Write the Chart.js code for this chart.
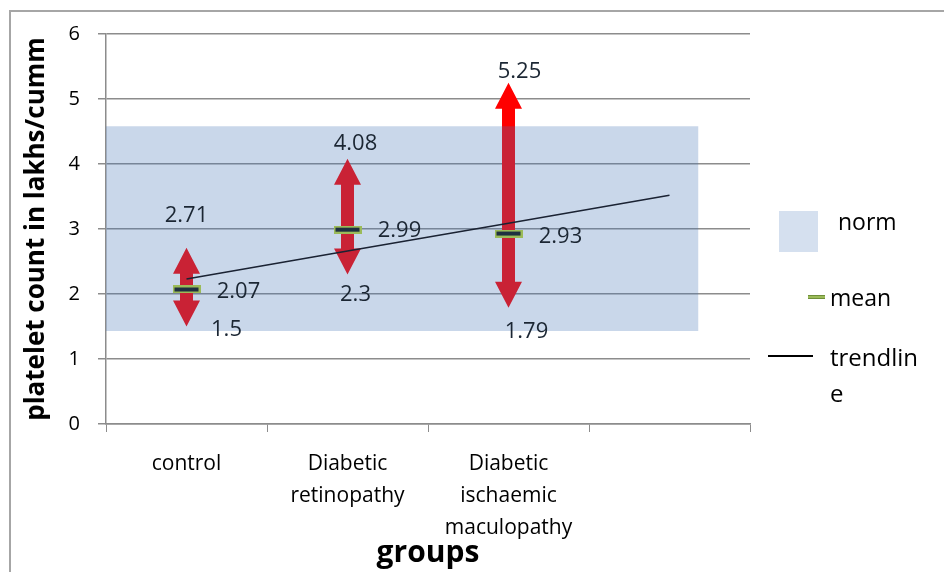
<!DOCTYPE html>
<html lang="en">
<head>
  <meta charset="UTF-8" />
  <title>platelet count by group</title>
  <script src="https://cdn.jsdelivr.net/npm/chart.js"></script>
  <style>
    body {
      margin: 0;
      font-family: "Open Sans", sans-serif;
      background: #fff;
    }
    #wrap {
      position: relative;
      width: 944px;
      height: 572px;
      overflow: hidden;
    }
    #frame {
      position: absolute;
      left: 9px;
      top: 10px;
      width: 1000px;
      height: 700px;
      border: 2px solid #a6a6a6;
    }
    canvas {
      position: absolute;
      left: 0;
      top: 0;
    }
    .leg {
      position: absolute;
      font-size: 23px;
      color: #000;
      line-height: 36px;
    }
    .sw {
      position: absolute;
    }
  </style>
</head>
<body>
<div id="wrap">
  <div id="frame"></div>
  <canvas id="plateletChart" width="944" height="572"></canvas>

  <div class="sw" style="left:779px; top:211px; width:39px; height:41px; background:#d5e0ef;"></div>
  <div class="leg" style="left:838px; top:203px;">norm</div>

  <div class="sw" style="left:808px; top:295px; width:17px; height:4px; background:#9bbb59; border-top:1px solid #6f8f3a; border-bottom:1px solid #6f8f3a; box-sizing:border-box;"></div>
  <div class="leg" style="left:830px; top:279px;">mean</div>

  <div class="sw" style="left:768px; top:355px; width:45px; height:2px; background:#000;"></div>
  <div class="leg" style="left:830px; top:339px; font-size:24px;">trendlin<br>e</div>
</div>

<script>
  // categories (4th slot is empty in the original)
  const groups = ['control', ['Diabetic', 'retinopathy'], ['Diabetic', 'ischaemic', 'maculopathy'], ''];
  const yTicks = [0, 1, 2, 3, 4, 5, 6];

  const meanVals = [2.07, 2.99, 2.93];
  const minVals = [1.5, 2.3, 1.79];
  const maxVals = [2.71, 4.08, 5.25];
  const trendVals = [2.23, 2.66, 3.09, 3.52];

  // normal range band
  const normLow = 1.43;
  const normHigh = 4.58;
  const normEnd = 3.68; // in category units along the axis

  // mean marker: dark bar with a green rim
  const meanMark = document.createElement('canvas');
  meanMark.width = 28;
  meanMark.height = 8;
  (function () {
    const c = meanMark.getContext('2d');
    c.fillStyle = '#9bbb59';
    c.fillRect(0, 0, 28, 8);
    c.fillStyle = '#1f3040';
    c.fillRect(2, 2, 24, 4);
  })();

  // label offsets (px) from the value's position
  const maxOff = [[0, -32], [8, -15], [11, -11]];
  const minOff = [[40, 3], [8, 20], [18, 24]];
  const meanOff = [[52, 2], [52, 1], [52, 3]];

  const arrowPlugin = {
    id: 'arrows',
    beforeDatasetsDraw(chart) {
      const ctx = chart.ctx;
      const xs = chart.scales.x;
      const ys = chart.scales.y;
      const headH = 26, headW = 13.5, shaftW = 6.5;
      ctx.save();
      ctx.fillStyle = '#ff0000';
      minVals.forEach((mn, i) => {
        const x = xs.getPixelForValue(i);
        const top = ys.getPixelForValue(maxVals[i]);
        const bot = ys.getPixelForValue(mn);
        ctx.beginPath();
        ctx.moveTo(x, top);
        ctx.lineTo(x + headW, top + headH);
        ctx.lineTo(x + shaftW, top + headH);
        ctx.lineTo(x + shaftW, bot - headH);
        ctx.lineTo(x + headW, bot - headH);
        ctx.lineTo(x, bot);
        ctx.lineTo(x - headW, bot - headH);
        ctx.lineTo(x - shaftW, bot - headH);
        ctx.lineTo(x - shaftW, top + headH);
        ctx.lineTo(x - headW, top + headH);
        ctx.closePath();
        ctx.fill();
      });
      ctx.restore();
    },
    afterDatasetsDraw(chart) {
      const ctx = chart.ctx;
      const xs = chart.scales.x;
      const ys = chart.scales.y;
      ctx.save();
      ctx.font = '22px "Open Sans"';
      ctx.fillStyle = '#1b2633';
      ctx.textAlign = 'center';
      ctx.textBaseline = 'middle';
      const put = (v, i, off) => {
        const x = xs.getPixelForValue(i) + off[0];
        const y = ys.getPixelForValue(v) + off[1];
        ctx.fillText(String(v), x, y);
      };
      maxVals.forEach((v, i) => put(v, i, maxOff[i]));
      minVals.forEach((v, i) => put(v, i, minOff[i]));
      meanVals.forEach((v, i) => put(v, i, meanOff[i]));
      ctx.restore();
    }
  };

  const ctx = document.getElementById('plateletChart').getContext('2d');

  new Chart(ctx, {
    type: 'line',
    data: {
      labels: groups,
      datasets: [
        {
          label: 'trendline',
          data: trendVals,
          borderColor: '#1a2233',
          borderWidth: 1.5,
          pointRadius: 0,
          fill: false,
          order: 1
        },
        {
          label: 'mean',
          data: meanVals,
          showLine: false,
          pointStyle: meanMark,
          pointRadius: 14,
          order: 2
        },
        {
          label: 'norm',
          xAxisID: 'x2',
          data: [{ x: 0, y: normHigh }, { x: normEnd, y: normHigh }],
          borderWidth: 0,
          pointRadius: 0,
          backgroundColor: 'rgba(69,117,183,0.29)',
          fill: { value: normLow },
          order: 3
        }
      ]
    },
    options: {
      responsive: false,
      animation: false,
      layout: {
        padding: { left: 10, top: 34, right: 194, bottom: 0 }
      },
      plugins: {
        legend: { display: false },
        tooltip: { enabled: false }
      },
      scales: {
        x: {
          type: 'category',
          offset: true,
          grid: {
            offset: true,
            drawOnChartArea: false,
            tickLength: 8,
            color: '#8c8c8c'
          },
          border: { color: '#8c8c8c', width: 1.5 },
          ticks: {
            color: '#000',
            maxRotation: 0,
            autoSkip: false,
            padding: 16,
            font: { family: 'Open Sans', size: 21, lineHeight: 1.52 }
          },
          title: {
            display: true,
            text: 'groups',
            color: '#000',
            padding: { top: 0, bottom: 1 },
            font: { family: 'Open Sans', size: 30, weight: 'bold', lineHeight: 1.2 }
          },
          afterFit: s => { s.height = 148; }
        },
        x2: {
          type: 'linear',
          display: false,
          min: 0,
          max: 4
        },
        y: {
          min: yTicks[0],
          max: yTicks[yTicks.length - 1],
          afterBuildTicks: s => { s.ticks = yTicks.map(v => ({ value: v })); },
          grid: {
            color: '#8c8c8c',
            lineWidth: 1.5,
            tickLength: 8
          },
          border: { color: '#8c8c8c', width: 1.5 },
          ticks: {
            color: '#000',
            padding: 18,
            font: { family: 'Open Sans', size: 20 }
          },
          title: {
            display: true,
            text: 'platelet count in lakhs/cumm',
            color: '#000',
            padding: { top: 11, bottom: 0 },
            font: { family: 'Open Sans', size: 26, weight: 'bold', lineHeight: 1.2 }
          },
          afterFit: s => { s.width = 96; }
        }
      }
    },
    plugins: [arrowPlugin]
  });
</script>
</body>
</html>
